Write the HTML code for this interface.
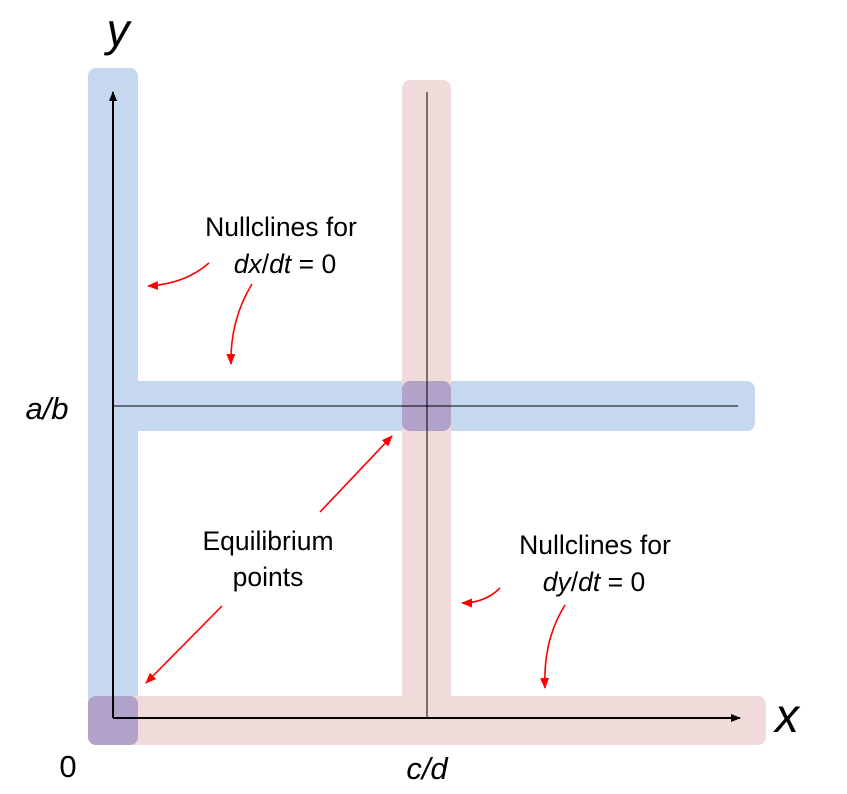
<!DOCTYPE html>
<html><head><style>
html,body{margin:0;padding:0;background:#fff;}
svg{display:block;}
text{font-family:"Liberation Sans",Arial,sans-serif;fill:#000;}
</style></head><body>
<svg width="847" height="794" viewBox="0 0 847 794" xmlns="http://www.w3.org/2000/svg">
<defs>
<marker id="ab" markerWidth="10" markerHeight="10" refX="9" refY="5" orient="auto" markerUnits="userSpaceOnUse"><path d="M0,1 L10,5 L0,9 Z" fill="#000"/></marker>
<marker id="ar" markerWidth="12" markerHeight="12" refX="10" refY="6" orient="auto" markerUnits="userSpaceOnUse"><path d="M0,1.5 L11,6 L0,10.5 Z" fill="#f00"/></marker>
</defs>
<rect x="88" y="68" width="50" height="677" rx="8" fill="#c6d8ef"/>
<rect x="88" y="381" width="667" height="50" rx="8" fill="#c6d8ef"/>
<rect x="402" y="80" width="49" height="665" rx="8" fill="#f1dada"/>
<rect x="88" y="696" width="678" height="49" rx="8" fill="#f1dada"/>
<rect x="402" y="381" width="49" height="50" rx="8" fill="#b0a2c8"/>
<rect x="88" y="696" width="50" height="49" rx="8" fill="#b0a2c8"/>
<line x1="113" y1="406" x2="738" y2="406" stroke="#000" stroke-width="1"/>
<line x1="427" y1="92" x2="427" y2="718" stroke="#000" stroke-width="1"/>
<line x1="113" y1="718" x2="113" y2="92" stroke="#000" stroke-width="2" marker-end="url(#ab)"/>
<line x1="113" y1="718" x2="740" y2="718" stroke="#000" stroke-width="2" marker-end="url(#ab)"/>
<g stroke="#f00" stroke-width="1.6" fill="none" marker-end="url(#ar)">
<path d="M209,263 Q185,284 148,286"/>
<path d="M252,284 Q230,320 231,364"/>
<path d="M320,512 L392,436"/>
<path d="M222,606 L146,683"/>
<path d="M500,588 Q485,603 462,603"/>
<path d="M565,605 Q543,640 545,688"/>
</g>
<text x="118" y="46" font-size="46" font-style="italic" text-anchor="middle">y</text>
<text x="787" y="732" font-size="48" font-style="italic" text-anchor="middle">x</text>
<text x="47" y="419" font-size="31" font-style="italic" text-anchor="middle">a/b</text>
<text x="68" y="777" font-size="31" text-anchor="middle">0</text>
<text x="427" y="779" font-size="31" font-style="italic" text-anchor="middle">c/d</text>
<g font-size="26.5" text-anchor="middle">
<text x="281" y="236">Nullclines for</text>
<text x="285" y="273"><tspan font-style="italic">dx</tspan>/<tspan font-style="italic">dt</tspan> = 0</text>
<text x="268" y="550">Equilibrium</text>
<text x="268" y="586">points</text>
<text x="595" y="554">Nullclines for</text>
<text x="594" y="591"><tspan font-style="italic">dy</tspan>/<tspan font-style="italic">dt</tspan> = 0</text>
</g>
</svg>
</body></html>
